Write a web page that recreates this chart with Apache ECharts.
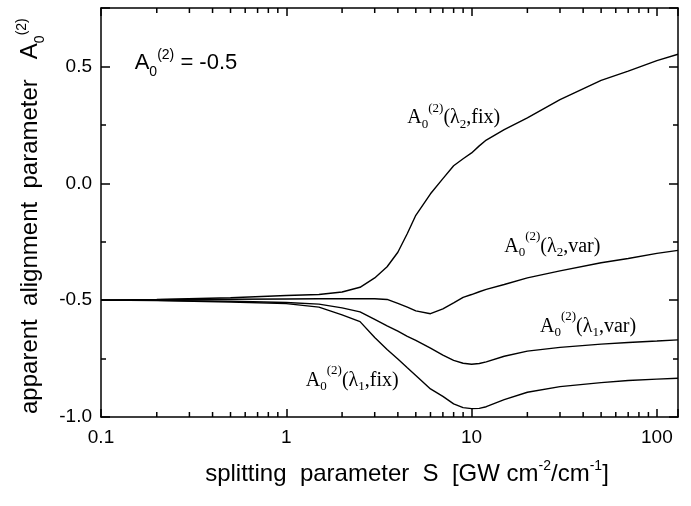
<!DOCTYPE html>
<html>
<head>
<meta charset="utf-8">
<script src="https://cdn.jsdelivr.net/npm/echarts@6/dist/echarts.min.js"></script>
<style>
html, body { margin: 0; padding: 0; background: #fff; }
#chart { width: 691px; height: 506px; }
</style>
</head>
<body>
<div id="chart"></div>
<script>
// splitting parameter S (log axis)
var sValues = [0.1, 0.2, 0.5, 1, 1.5, 2, 2.5, 3, 3.5, 4, 4.5, 5, 6, 7, 8, 9, 10, 11, 12, 15, 20, 30, 50, 70, 100, 130];
// apparent alignment parameter for each case
var lambda2Fix = [-0.5, -0.497, -0.49, -0.48, -0.476, -0.465, -0.445, -0.405, -0.357, -0.295, -0.215, -0.137, -0.045, 0.02, 0.075, 0.105, 0.13, 0.16, 0.185, 0.23, 0.28, 0.358, 0.44, 0.48, 0.525, 0.552];
var lambda2Var = [-0.5, -0.498, -0.496, -0.495, -0.494, -0.494, -0.494, -0.494, -0.497, -0.514, -0.53, -0.546, -0.558, -0.537, -0.512, -0.488, -0.476, -0.464, -0.454, -0.433, -0.405, -0.375, -0.34, -0.322, -0.3, -0.287];
var lambda1Var = [-0.5, -0.501, -0.505, -0.51, -0.517, -0.533, -0.55, -0.582, -0.61, -0.633, -0.655, -0.672, -0.705, -0.735, -0.758, -0.77, -0.774, -0.771, -0.764, -0.74, -0.718, -0.702, -0.688, -0.681, -0.675, -0.67];
var lambda1Fix = [-0.5, -0.502, -0.508, -0.515, -0.53, -0.563, -0.592, -0.66, -0.711, -0.752, -0.789, -0.822, -0.88, -0.912, -0.944, -0.96, -0.964, -0.963, -0.956, -0.926, -0.894, -0.87, -0.853, -0.844, -0.838, -0.834];

var xMajorTicks = [0.1, 1, 10, 100];
var xTickLabels = ['0.1', '1', '10', '100'];
var xMinorTicks = [0.2, 0.3, 0.4, 0.5, 0.6, 0.7, 0.8, 0.9, 2, 3, 4, 5, 6, 7, 8, 9, 20, 30, 40, 50, 60, 70, 80, 90];
var yTicks = [-1.0, -0.5, 0.0, 0.5];
var yTickLabels = ['-1.0', '-0.5', '0.0', '0.5'];
var xMin = 0.1, xMax = 130, yMin = -1.0, yMax = 0.75;

var chart = echarts.init(document.getElementById('chart'));

function pairs(ys) {
    return sValues.map(function (s, i) { return [s, ys[i]]; });
}
function curve(name, ys) {
    return {
        name: name, type: 'line', data: pairs(ys),
        symbol: 'none', lineStyle: {color: '#000', width: 1.4},
        xAxisIndex: 0, yAxisIndex: 0, z: 3
    };
}
function xLabel(v) {
    for (var i = 0; i < xMajorTicks.length; i++) {
        if (Math.abs(v - xMajorTicks[i]) < 1e-6 * xMajorTicks[i]) return xTickLabels[i];
    }
    return '';
}
function yLabel(v) {
    for (var i = 0; i < yTicks.length; i++) {
        if (Math.abs(v - yTicks[i]) < 1e-6) return yTickLabels[i];
    }
    return '';
}
var black = {color: '#000', width: 1.5};

function xAxisDef(pos, labels) {
    return {
        type: 'log', logBase: 10, min: xMin, max: xMax, position: pos,
        axisLine: {show: true, onZero: false, lineStyle: black},
        axisTick: {show: true, inside: true, length: 8, lineStyle: {color: '#000', width: 1.5}},
        axisLabel: {show: labels, formatter: xLabel, fontSize: 19, color: '#000',
            fontFamily: 'Liberation Sans', margin: 11, hideOverlap: false},
        splitLine: {show: false}, minorTick: {show: false}
    };
}
function yAxisDef(pos, interval, len, labels, line) {
    return {
        type: 'value', min: yMin, max: yMax, interval: interval, position: pos,
        axisLine: {show: line, onZero: false, lineStyle: black},
        axisTick: {show: true, inside: true, length: len, lineStyle: {color: '#000', width: 1.5}},
        axisLabel: {show: labels, formatter: yLabel, fontSize: 19, color: '#000',
            fontFamily: 'Liberation Sans', margin: 9},
        splitLine: {show: false}
    };
}

var option = {
    animation: false,
    backgroundColor: '#fff',
    grid: {left: 101, right: 13, top: 8, bottom: 89, containLabel: false, outerBoundsMode: 'none'},
    xAxis: [xAxisDef('bottom', true), xAxisDef('top', false)],
    yAxis: [
        yAxisDef('left', 0.5, 9, true, true),
        yAxisDef('left', 0.25, 5, false, false),
        yAxisDef('right', 0.5, 9, false, true),
        yAxisDef('right', 0.25, 5, false, false)
    ],
    series: [
        curve('λ2 fix', lambda2Fix),
        curve('λ2 var', lambda2Var),
        curve('λ1 var', lambda1Var),
        curve('λ1 fix', lambda1Fix),
        {
            // log-axis minor ticks (2..9 per decade) on bottom and top frame
            type: 'custom', xAxisIndex: 0, yAxisIndex: 0, silent: true, clip: false,
            data: xMinorTicks.map(function (v) { return [v, yMin]; }),
            renderItem: function (params, api) {
                var v = api.value(0);
                var b = api.coord([v, yMin]);
                var t = api.coord([v, yMax]);
                var st = {stroke: '#000', lineWidth: 1.5};
                return {type: 'group', children: [
                    {type: 'line', shape: {x1: b[0], y1: b[1], x2: b[0], y2: b[1] - 5}, style: st},
                    {type: 'line', shape: {x1: t[0], y1: t[1], x2: t[0], y2: t[1] + 5}, style: st}
                ]};
            }
        }
    ]
};
chart.setOption(option);

// text annotations with sub/superscripts
var measureCtx = document.createElement('canvas').getContext('2d');
function pieceFont(p, family) { return p.size + 'px "' + family + '"'; }
function piecesWidth(pieces, family) {
    var w = 0;
    pieces.forEach(function (p) { measureCtx.font = pieceFont(p, family); w += measureCtx.measureText(p.t).width; });
    return w;
}
function textGroup(pieces, family, x0, base, rotation) {
    var children = [], x = 0;
    pieces.forEach(function (p) {
        var font = pieceFont(p, family);
        measureCtx.font = font;
        children.push({
            type: 'text', x: x, y: (p.dy || 0) - 0.31 * p.size,
            style: {text: p.t, font: font, fill: '#000', textAlign: 'left', textVerticalAlign: 'middle',
                align: 'left', verticalAlign: 'middle'}
        });
        x += measureCtx.measureText(p.t).width;
    });
    return {type: 'group', x: x0, y: base, rotation: rotation || 0, children: children, silent: true};
}
function curveLabel(sub, kind) {
    return [
        {t: 'A', size: 20}, {t: '0', size: 13, dy: 4}, {t: '(2)', size: 13, dy: -12},
        {t: '(λ', size: 20}, {t: sub, size: 13, dy: 4}, {t: ',' + kind + ')', size: 20}
    ];
}
var labelAnchors = [
    {pieces: curveLabel('2', 'fix'), at: [4.5, 0.252]},
    {pieces: curveLabel('2', 'var'), at: [15.0, -0.297]},
    {pieces: curveLabel('1', 'var'), at: [23.4, -0.641]},
    {pieces: curveLabel('1', 'fix'), at: [1.275, -0.870]}
];
var graphics = labelAnchors.map(function (l) {
    var p = chart.convertToPixel({xAxisIndex: 0, yAxisIndex: 0}, l.at);
    return textGroup(l.pieces, 'Liberation Serif', p[0], p[1]);
});
var noteAt = chart.convertToPixel({xAxisIndex: 0, yAxisIndex: 0}, [0.152, 0.487]);
graphics.push(textGroup([
    {t: 'A', size: 22}, {t: '0', size: 14, dy: 7}, {t: '(2)', size: 14, dy: -10}, {t: ' = -0.5', size: 22}
], 'Liberation Sans', noteAt[0], noteAt[1]));

var xTitle = [
    {t: 'splitting  parameter  S  [GW cm', size: 24}, {t: '-2', size: 14, dy: -12},
    {t: '/cm', size: 24}, {t: '-1', size: 14, dy: -12}, {t: ']', size: 24}
];
var xw = piecesWidth(xTitle, 'Liberation Sans');
graphics.push(textGroup(xTitle, 'Liberation Sans', 407 - xw / 2, 482));

var yTitle = [
    {t: 'apparent  alignment  parameter   A', size: 24}, {t: '0', size: 14, dy: 6}, {t: '(2)', size: 14, dy: -12}
];
graphics.push(textGroup(yTitle, 'Liberation Sans', 38, 414, Math.PI / 2));

chart.setOption({graphic: graphics});
</script>
</body>
</html>
